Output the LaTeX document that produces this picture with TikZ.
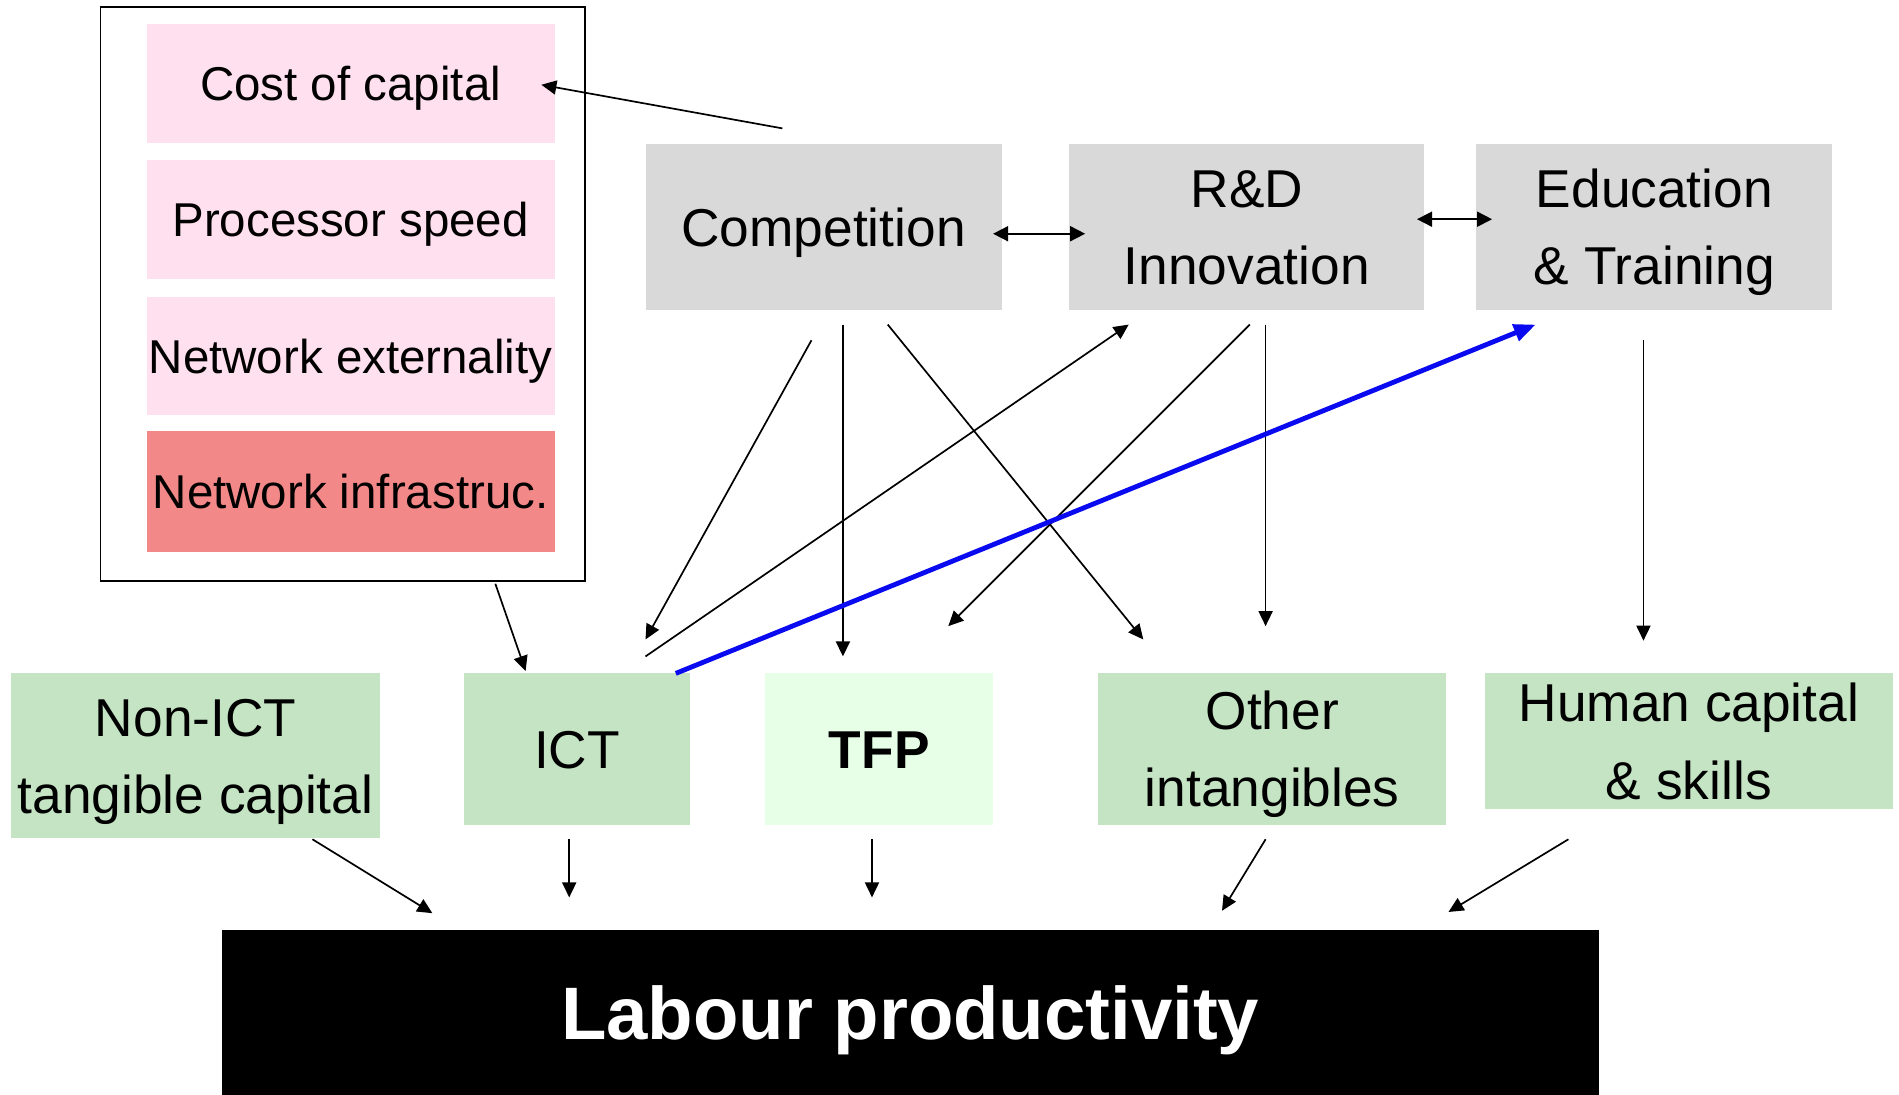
\documentclass[tikz,border=0pt]{standalone}
\usepackage{fontspec}
\setmainfont{Liberation Sans}
\usetikzlibrary{arrows.meta}
\definecolor{pinkbox}{RGB}{255,224,238}
\definecolor{redbox}{RGB}{242,136,136}
\definecolor{greybox}{RGB}{217,217,217}
\definecolor{greenbox}{RGB}{196,228,196}
\definecolor{tfpbox}{RGB}{230,255,230}
\definecolor{bluearr}{RGB}{10,10,240}
\newcommand\lowtext[2]{\raisebox{-#1}[\height][\depth]{\begin{tabular}{@{}c@{}}#2\end{tabular}}}
\begin{document}
\begin{tikzpicture}[x=0.5pt,y=-0.5pt,
  box/.style={inner sep=0pt, inner ysep=-6pt, outer sep=0pt, font=\fontsize{22}{32}\selectfont},
  smallbox/.style={inner sep=0pt, inner ysep=-6pt, outer sep=0pt, font=\fontsize{19.6}{24}\selectfont, fill=pinkbox, minimum width=168.5pt, minimum height=49pt},
  arr/.style={line width=0.7pt, -{Triangle[length=6.2pt,width=5.8pt]}},
  darr/.style={line width=0.7pt, {Triangle[length=6.2pt,width=6.2pt]}-{Triangle[length=6.2pt,width=6.2pt]}},
  bluea/.style={line width=2pt, draw=bluearr, -{Triangle[length=9pt,width=7pt]}}]
\useasboundingbox (0,0) rectangle (1568,904);
% left group
\node[draw=black, line width=0.75pt, inner sep=0pt, minimum width=200pt, minimum height=237pt] (outer) at (283,243) {};
\node[smallbox] (cost) at (289.5,69) {\lowtext{2.2pt}{Cost of capital}};
\node[smallbox] (proc) at (289.5,181) {\lowtext{2.2pt}{Processor speed}};
\node[smallbox] (netext) at (289.5,294) {\lowtext{2.2pt}{Network externality}};
\node[smallbox, fill=redbox, minimum height=50pt] (netinf) at (289.5,406) {\lowtext{2.2pt}{Network infrastruc.}};
% top row
\node[box, fill=greybox, minimum width=147pt, minimum height=68.5pt] (comp) at (680,187.5) {\lowtext{1.5pt}{Competition}};
\node[box, fill=greybox, minimum width=146.5pt, minimum height=68.5pt] (rd) at (1029.5,187.5) {\lowtext{1.5pt}{R\&D\\Innovation}};
\node[box, fill=greybox, minimum width=147pt, minimum height=68.5pt] (edu) at (1366,187.5) {\lowtext{1.5pt}{Education\\\& Training}};
% bottom row
\node[box, fill=greenbox, minimum width=152.5pt, minimum height=68pt] (nonict) at (161.5,624) {\lowtext{1.5pt}{Non-ICT\\tangible capital}};
\node[box, fill=greenbox, minimum width=93.5pt, minimum height=62.5pt] (ict) at (476.5,618.5) {\lowtext{1.5pt}{ICT}};
\node[box, fill=tfpbox, minimum width=94pt, minimum height=62.5pt, font=\fontsize{22}{32}\selectfont\bfseries] (tfp) at (726,618.5) {\lowtext{1.5pt}{TFP}};
\node[box, fill=greenbox, minimum width=143.5pt, minimum height=62.5pt] (other) at (1050.5,618.5) {\lowtext{1.5pt}{Other\\intangibles}};
\node[box, fill=greenbox, minimum width=168.5pt, minimum height=56pt] (human) at (1394.5,612) {\lowtext{1.5pt}{Human capital\\\& skills}};
% labour
\node[box, fill=black, text=white, minimum width=568.5pt, minimum height=68pt, font=\fontsize{30.7}{36}\selectfont\bfseries] (labour) at (751.5,836) {\lowtext{3.8pt}{Labour productivity}};
% arrows
\draw[arr] ([shift={(-34,-81.5)}]comp.center) -- ([shift={(157.5,1)}]cost.center);
\draw[darr] ([shift={(140,5.5)}]comp.center) -- ([shift={(-133.5,5.5)}]rd.center);
\draw[darr] ([shift={(140.5,-6.5)}]rd.center) -- ([shift={(-134,-6.5)}]edu.center);
\draw[arr] ([shift={(-10,93.5)}]comp.center) -- ([shift={(56.5,-90.5)}]ict.center);
\draw[arr] ([shift={(16,80.5)}]comp.center) -- ([shift={(-30,-76.5)}]tfp.center);
\draw[arr] ([shift={(53,80.5)}]comp.center) -- ([shift={(-106.5,-90.5)}]other.center);
\draw[arr] ([shift={(56.5,-76.5)}]ict.center) -- ([shift={(-97.5,80.5)}]rd.center);
\draw[arr] ([shift={(2.5,80.5)}]rd.center) -- ([shift={(57,-101.5)}]tfp.center);
\draw[arr] ([shift={(15.5,80.5)}]rd.center) -- ([shift={(-5.5,-101.5)}]other.center);
\draw[arr] ([shift={(-9,93.5)}]edu.center) -- ([shift={(-37.5,-83)}]human.center);
\draw[bluea] ([shift={(81.5,-62.5)}]ict.center) -- ([shift={(-98,80.5)}]edu.center);
\draw[arr] ([shift={(126,239)}]outer.center) -- ([shift={(-42.5,-64.5)}]ict.center);
\draw[arr] ([shift={(96.5,69)}]nonict.center) -- ([shift={(-394.5,-82)}]labour.center);
\draw[arr] ([shift={(-6.5,74.5)}]ict.center) -- ([shift={(-281.5,-95)}]labour.center);
\draw[arr] ([shift={(-6,74.5)}]tfp.center) -- ([shift={(-31.5,-95)}]labour.center);
\draw[arr] ([shift={(-5.5,74.5)}]other.center) -- ([shift={(257.5,-84)}]labour.center);
\draw[arr] ([shift={(-99.5,81)}]human.center) -- ([shift={(444.5,-83)}]labour.center);
\end{tikzpicture}
\end{document}
